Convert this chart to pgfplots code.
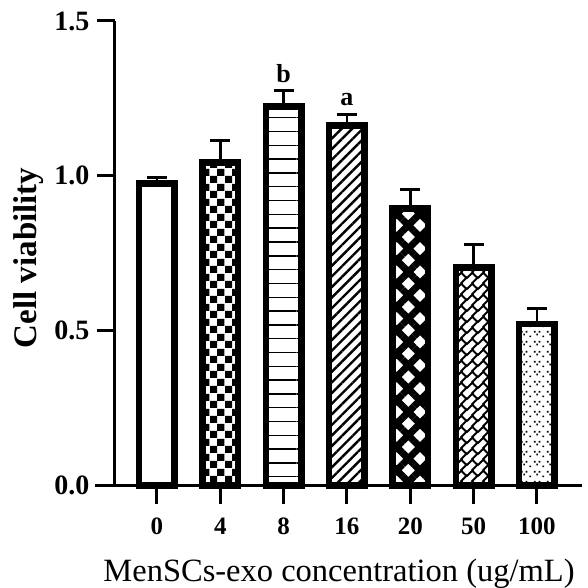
\documentclass[border=0pt]{standalone}
\usepackage{pgfplots}
\pgfplotsset{compat=1.18}
\usepackage{fontspec}
\setmainfont{Liberation Serif}
\usetikzlibrary{patterns,patterns.meta}

\tikzdeclarepattern{
  name=bigcheck,
  type=uncolored,
  bottom left={(0pt,0pt)},
  top right={(15pt,15pt)},
  tile size={(15pt,15pt)},
  code={\fill (0pt,0pt) rectangle (7.5pt,7.5pt); \fill (7.5pt,7.5pt) rectangle (15pt,15pt);}
}
\pgfdeclarepatternformonly{mybricks}{\pgfqpoint{0pt}{0pt}}{\pgfqpoint{10.607pt}{10.607pt}}{\pgfqpoint{10.607pt}{10.607pt}}{
  \pgfsetlinewidth{2pt}
  \pgfpathmoveto{\pgfqpoint{-1pt}{4.303pt}}\pgfpathlineto{\pgfqpoint{6.303pt}{11.607pt}}
  \pgfpathmoveto{\pgfqpoint{4.303pt}{-1pt}}\pgfpathlineto{\pgfqpoint{11.607pt}{6.303pt}}
  \pgfpathmoveto{\pgfqpoint{10.607pt}{5.303pt}}\pgfpathlineto{\pgfqpoint{5.303pt}{10.607pt}}
  \pgfusepath{stroke}
}
\pgfdeclarepatternformonly{myvdots}{\pgfqpoint{0pt}{0pt}}{\pgfqpoint{13pt}{10pt}}{\pgfqpoint{13pt}{10pt}}{
  \pgfpathrectangle{\pgfqpoint{1pt}{6pt}}{\pgfqpoint{1.7pt}{1.7pt}}
  \pgfpathrectangle{\pgfqpoint{6pt}{6pt}}{\pgfqpoint{1.7pt}{1.7pt}}
  \pgfpathrectangle{\pgfqpoint{3.5pt}{3pt}}{\pgfqpoint{1.7pt}{1.7pt}}
  \pgfpathrectangle{\pgfqpoint{10pt}{1pt}}{\pgfqpoint{1.7pt}{1.7pt}}
  \pgfusepath{fill}
}

\pgfplotsset{
  myerr/.style={
    error bars/y dir=plus,
    error bars/y explicit,
    error bars/error bar style={line width=2.5pt, black, solid},
    error bars/error mark options={rotate=90, mark size=10pt, line width=2.7pt, black, solid},
  },
}

\begin{document}
\begin{tikzpicture}
\path[use as bounding box] (-115pt,-101.5pt) rectangle (473pt,485.5pt);
\begin{axis}[
  at={(0pt,0pt)}, anchor=south west,
  scale only axis,
  width=466.7pt, height=464.5pt,
  xmin=-0.663, xmax=6.706,
  ymin=0, ymax=1.5,
  clip=false,
  ybar, bar width=35.5pt, bar shift=0pt,
  axis x line*=bottom, axis y line*=left,
  x axis line style={-, line width=3pt, shorten <=-20pt},
  y axis line style={-, line width=3pt},
  tick align=outside,
  major tick length=18pt,
  tick style={line width=3pt, black},
  xtick={0,1,2,3,4,5,6},
  xticklabels={0,4,8,16,20,50,100},
  ytick={0,0.5,1,1.5},
  /pgf/number format/assume math mode=true,
  yticklabel style={/pgf/number format/fixed, /pgf/number format/fixed zerofill, /pgf/number format/precision=1},
  yticklabel style={font=\bfseries\fontsize{28}{30}\selectfont, anchor=east, xshift=-4pt},
  xticklabel style={font=\bfseries\fontsize{25}{28}\selectfont, anchor=north, yshift=-11pt},
  every axis y label/.style={at={(axis description cs:-0.186,0.49)}, rotate=90, anchor=center, font=\bfseries\fontsize{33}{40}\selectfont},
  every axis x label/.style={at={(axis description cs:0.48,0)}, yshift=-96pt, anchor=base, font=\fontsize{32.5}{38}\selectfont},
  ylabel={Cell viability},
  xlabel={MenSCs-exo concentration (ug/mL)},
]
\addplot[myerr, draw=black, line width=6.5pt, fill=white] coordinates {(0,0.975) +- (0,0.020)};
\addplot[myerr, draw=black, line width=6.5pt, pattern=bigcheck] coordinates {(1,1.043) +- (0,0.071)};
\addplot[myerr, draw=black, line width=6.5pt, pattern={Lines[angle=0,distance=13.8pt,line width=1.4pt]}] coordinates {(2,1.224) +- (0,0.051)};
\addplot[myerr, draw=black, line width=6.5pt, pattern={Lines[angle=45,distance=7.5pt,line width=2.4pt]}] coordinates {(3,1.163) +- (0,0.035)};
\addplot[myerr, draw=black, line width=6.5pt, pattern={Hatch[angle=45,distance=16.5pt,line width=7pt]}] coordinates {(4,0.894) +- (0,0.061)};
\addplot[myerr, draw=black, line width=6.5pt, pattern=mybricks] coordinates {(5,0.704) +- (0,0.074)};
\addplot[myerr, draw=black, line width=6.5pt, pattern=myvdots] coordinates {(6,0.521) +- (0,0.051)};
\node[font=\bfseries\fontsize{26}{30}\selectfont, anchor=base] at (axis cs:2,1.303) {b};
\node[font=\bfseries\fontsize{26}{30}\selectfont, anchor=base] at (axis cs:3,1.228) {a};
\end{axis}
\end{tikzpicture}
\end{document}
